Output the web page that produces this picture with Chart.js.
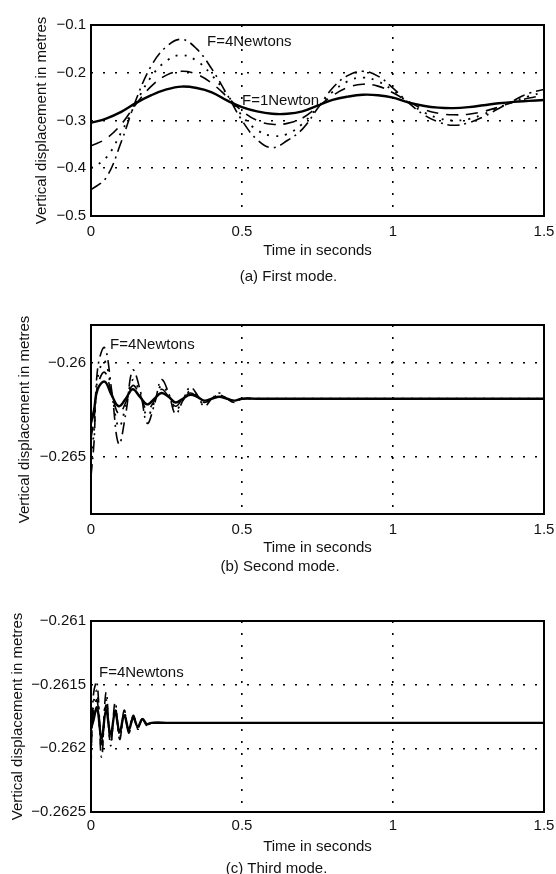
<!DOCTYPE html>
<html>
<head>
<meta charset="utf-8">
<title>Vertical displacement - three modes</title>
<script src="https://cdn.jsdelivr.net/npm/chart.js@4.4.1/dist/chart.umd.min.js"></script>
<style>
  body { margin: 0; background: #fff; overflow: hidden; }
  .wrap { position: relative; width: 556px; height: 874px; overflow: hidden; }
  canvas { position: absolute; left: 0; }
</style>
</head>
<body>
<div class="wrap">
  <canvas id="c1" width="556" height="290" style="top:0px"></canvas>
  <canvas id="c2" width="556" height="285" style="top:295px"></canvas>
  <canvas id="c3" width="556" height="293" style="top:585px"></canvas>
</div>
<script>
// shared x axis
const xTicks = [0, 0.5, 1, 1.5];
const xTickLabels = ["0", "0.5", "1", "1.5"];

// (a) first mode
const time1 = [0, 0.05, 0.1, 0.15, 0.2, 0.25, 0.3, 0.35, 0.4, 0.45, 0.5, 0.55, 0.6, 0.65, 0.7, 0.75,
  0.8, 0.85, 0.9, 0.95, 1.0, 1.05, 1.1, 1.15, 1.2, 1.25, 1.3, 1.35, 1.4, 1.45, 1.5];
const first_F1 = [-0.305, -0.296, -0.282, -0.263, -0.247, -0.235, -0.229, -0.232, -0.241, -0.258, -0.272,
  -0.281, -0.286, -0.286, -0.281, -0.269, -0.257, -0.250, -0.246, -0.247, -0.252, -0.262, -0.269, -0.273,
  -0.274, -0.272, -0.268, -0.264, -0.261, -0.259, -0.257];
const first_F2 = [-0.353, -0.338, -0.308, -0.265, -0.228, -0.205, -0.197, -0.203, -0.222, -0.250, -0.280,
  -0.300, -0.308, -0.306, -0.295, -0.272, -0.248, -0.231, -0.224, -0.228, -0.242, -0.260, -0.276, -0.285,
  -0.288, -0.287, -0.281, -0.272, -0.261, -0.253, -0.247];
const first_F3 = [-0.400, -0.378, -0.325, -0.262, -0.208, -0.175, -0.163, -0.175, -0.205, -0.245, -0.290,
  -0.320, -0.332, -0.328, -0.307, -0.273, -0.240, -0.218, -0.210, -0.218, -0.237, -0.262, -0.282, -0.295,
  -0.300, -0.297, -0.287, -0.273, -0.260, -0.249, -0.241];
const first_F4 = [-0.445, -0.420, -0.345, -0.255, -0.185, -0.145, -0.130, -0.150, -0.192, -0.245, -0.300,
  -0.340, -0.357, -0.342, -0.318, -0.275, -0.232, -0.206, -0.197, -0.207, -0.232, -0.262, -0.287, -0.303,
  -0.310, -0.305, -0.292, -0.275, -0.258, -0.243, -0.235];
const yTicks1 = [-0.5, -0.4, -0.3, -0.2, -0.1];
const yTickLabels1 = ["\u22120.5", "\u22120.4", "\u22120.3", "\u22120.2", "\u22120.1"];

// (b) second mode
const time2 = [0, 0.01, 0.022, 0.045, 0.068, 0.092, 0.115, 0.138, 0.162, 0.186, 0.21, 0.233, 0.257, 0.28,
  0.304, 0.328, 0.352, 0.375, 0.4, 0.425, 0.45, 0.475, 0.5, 0.55, 0.6, 0.7, 0.8, 1.0, 1.2, 1.5];
const second_F1 = [-0.2632, -0.2625, -0.2614, -0.2610, -0.2617, -0.2623, -0.2619, -0.2614, -0.2618, -0.2622,
  -0.2619, -0.2616, -0.2618, -0.2621, -0.2619, -0.2617, -0.2618, -0.2620, -0.2619, -0.2618, -0.2619, -0.2620,
  -0.2619, -0.2619, -0.2619, -0.2619, -0.2619, -0.2619, -0.2619, -0.2619];
const second_F2 = [-0.2640, -0.2630, -0.2612, -0.2605, -0.2616, -0.2627, -0.2621, -0.2612, -0.2617, -0.2625,
  -0.2620, -0.2614, -0.2618, -0.2623, -0.2619, -0.2616, -0.2618, -0.2621, -0.2619, -0.2617, -0.2619, -0.2620,
  -0.2619, -0.2619, -0.2619, -0.2619, -0.2619, -0.2619, -0.2619, -0.2619];
const second_F3 = [-0.2650, -0.2636, -0.2608, -0.2599, -0.2615, -0.2634, -0.2623, -0.2609, -0.2616, -0.2628,
  -0.2621, -0.2612, -0.2617, -0.2625, -0.2620, -0.2615, -0.2618, -0.2622, -0.2619, -0.2617, -0.2619, -0.2620,
  -0.2619, -0.2619, -0.2619, -0.2619, -0.2619, -0.2619, -0.2619, -0.2619];
const second_F4 = [-0.2660, -0.2642, -0.2603, -0.2592, -0.2614, -0.2643, -0.2627, -0.2604, -0.2614, -0.2632,
  -0.2622, -0.2609, -0.2616, -0.2627, -0.2620, -0.2613, -0.2617, -0.2623, -0.2619, -0.2616, -0.2619, -0.2621,
  -0.2619, -0.2619, -0.2619, -0.2619, -0.2619, -0.2619, -0.2619, -0.2619];
const yTicks2 = [-0.265, -0.26];
const yTickLabels2 = ["\u22120.265", "\u22120.26"];

// (c) third mode
const time3 = [0, 0.008, 0.02, 0.035, 0.05, 0.065, 0.08, 0.095, 0.11, 0.125, 0.14, 0.155, 0.17, 0.185,
  0.2, 0.25, 0.3, 0.5, 1.0, 1.5];
const third_F1 = [-0.26185, -0.26178, -0.26168, -0.26192, -0.26170, -0.26189, -0.26172, -0.26187, -0.26174,
  -0.26185, -0.26176, -0.26183, -0.26177, -0.26181, -0.2618, -0.2618, -0.2618, -0.2618, -0.2618, -0.2618];
const third_F2 = [-0.26195, -0.26172, -0.26162, -0.26196, -0.26166, -0.26192, -0.26170, -0.26189, -0.26173,
  -0.26186, -0.26175, -0.26184, -0.26177, -0.26182, -0.2618, -0.2618, -0.2618, -0.2618, -0.2618, -0.2618];
const third_F3 = [-0.26205, -0.26165, -0.26155, -0.26200, -0.26162, -0.26195, -0.26168, -0.26191, -0.26172,
  -0.26187, -0.26175, -0.26184, -0.26177, -0.26182, -0.2618, -0.2618, -0.2618, -0.2618, -0.2618, -0.2618];
const third_F4 = [-0.26215, -0.26158, -0.26148, -0.26207, -0.26156, -0.26198, -0.26164, -0.26193, -0.26170,
  -0.26188, -0.26174, -0.26185, -0.26177, -0.26182, -0.2618, -0.2618, -0.2618, -0.2618, -0.2618, -0.2618];
const yTicks3 = [-0.2625, -0.262, -0.2615, -0.261];
const yTickLabels3 = ["\u22120.2625", "\u22120.262", "\u22120.2615", "\u22120.261"];

const seriesNames = ["F=1Newton", "F=2Newtons", "F=3Newtons", "F=4Newtons"];

Chart.defaults.font.family = "'Liberation Sans', Arial, Helvetica, sans-serif";
Chart.defaults.font.size = 15;
Chart.defaults.color = "#111";

// solid, dashed, dotted, dash-dot like the matlab defaults
const lineStyles = [
  { borderWidth: 2.4, borderDash: [] },
  { borderWidth: 1.6, borderDash: [12, 8] },
  { borderWidth: 1.8, borderDash: [2, 7] },
  { borderWidth: 1.6, borderDash: [12, 5, 2, 5] }
];

// box round the plot area
const framePlugin = {
  id: "frame",
  afterDatasetsDraw(chart) {
    const { ctx, chartArea: a } = chart;
    ctx.save();
    ctx.strokeStyle = "#000";
    ctx.lineWidth = 2;
    ctx.strokeRect(a.left, a.top, a.right - a.left, a.bottom - a.top);
    ctx.restore();
  }
};

// text labels placed in data coordinates
function notesPlugin(notes) {
  return {
    id: "notes",
    afterDatasetsDraw(chart) {
      const { ctx, scales } = chart;
      ctx.save();
      ctx.font = "15px 'Liberation Sans', Arial, sans-serif";
      ctx.fillStyle = "#111";
      ctx.textAlign = "left";
      ctx.textBaseline = "middle";
      notes.forEach(n => {
        ctx.fillText(n.text, scales.x.getPixelForValue(n.x), scales.y.getPixelForValue(n.y));
      });
      ctx.restore();
    }
  };
}

function isEdge(value, min, max) {
  return Math.abs(value - min) < 1e-9 || Math.abs(value - max) < 1e-9;
}

function makePanel(id, p) {
  const datasets = p.series.map((vals, i) => ({
    label: seriesNames[i],
    data: p.time.map((t, k) => ({ x: t, y: vals[k] })),
    borderColor: "#000",
    borderWidth: lineStyles[i].borderWidth,
    borderDash: lineStyles[i].borderDash,
    pointRadius: 0,
    tension: 0.4,
    fill: false
  })).reverse(); // solid drawn last, on top

  return new Chart(document.getElementById(id), {
    type: "line",
    data: { datasets },
    options: {
      responsive: false,
      animation: false,
      devicePixelRatio: 1,
      layout: { padding: { top: p.padTop, left: p.padLeft, right: 12, bottom: p.padBottom } },
      plugins: {
        legend: { display: false },
        tooltip: { enabled: false },
        title: {
          display: true,
          position: "bottom",
          text: p.caption,
          color: "#111",
          font: { size: 15, weight: "normal" },
          padding: { top: p.capPad, bottom: 0 }
        }
      },
      scales: {
        x: {
          type: "linear",
          min: 0,
          max: 1.5,
          afterBuildTicks: ax => { ax.ticks = xTicks.map(v => ({ value: v })); },
          afterFit: ax => { ax.height = p.xAxisHeight; },
          ticks: {
            // padding 0 so the last label does not push the plot in; the gap comes from lineHeight
            padding: 0,
            font: { size: 15, lineHeight: p.tickLine },
            autoSkip: false,
            maxRotation: 0,
            color: "#111",
            callback: v => xTickLabels[xTicks.indexOf(v)]
          },
          grid: {
            drawTicks: false,
            color: "#000",
            lineWidth: c => (c.tick && isEdge(c.tick.value, 0, 1.5)) ? 0 : 1.6
          },
          border: { display: false, dash: [2, 10] },
          title: { display: true, text: "Time in seconds", color: "#111", padding: { top: 0, bottom: p.titlePad } }
        },
        y: {
          type: "linear",
          min: p.yMin,
          max: p.yMax,
          afterBuildTicks: ax => { ax.ticks = p.yTicks.map(v => ({ value: v })); },
          afterFit: ax => { ax.width = p.yAxisWidth; },
          ticks: {
            padding: 5,
            autoSkip: false,
            color: "#111",
            callback: v => p.yTickLabels[p.yTicks.indexOf(v)]
          },
          grid: {
            drawTicks: false,
            color: "#000",
            lineWidth: c => (c.tick && isEdge(c.tick.value, p.yMin, p.yMax)) ? 0 : 1.6
          },
          border: { display: false, dash: [2, 10] },
          title: { display: true, text: "Vertical displacement in metres", color: "#111", padding: { top: 0, bottom: 0 } }
        }
      }
    },
    plugins: [framePlugin, notesPlugin(p.notes)]
  });
}

makePanel("c1", {
  time: time1,
  series: [first_F1, first_F2, first_F3, first_F4],
  yMin: -0.5, yMax: -0.1,
  yTicks: yTicks1, yTickLabels: yTickLabels1,
  caption: "(a) First mode.",
  padTop: 25, padLeft: 33, padBottom: 4,
  yAxisWidth: 58, xAxisHeight: 45, tickLine: 2.13, titlePad: 1, capPad: 7,
  notes: [
    { text: "F=4Newtons", x: 0.384, y: -0.135 },
    { text: "F=1Newton", x: 0.500, y: -0.258 }
  ]
});

makePanel("c2", {
  time: time2,
  series: [second_F1, second_F2, second_F3, second_F4],
  yMin: -0.268, yMax: -0.258,
  yTicks: yTicks2, yTickLabels: yTickLabels2,
  caption: "(b) Second mode.",
  padTop: 30, padLeft: 16, padBottom: 4,
  yAxisWidth: 75, xAxisHeight: 44, tickLine: 2.13, titlePad: 1, capPad: 0,
  notes: [
    { text: "F=4Newtons", x: 0.063, y: -0.25905 }
  ]
});

makePanel("c3", {
  time: time3,
  series: [third_F1, third_F2, third_F3, third_F4],
  yMin: -0.2625, yMax: -0.261,
  yTicks: yTicks3, yTickLabels: yTickLabels3,
  caption: "(c) Third mode.",
  padTop: 36, padLeft: 9, padBottom: 0,
  yAxisWidth: 82, xAxisHeight: 48, tickLine: 1.87, titlePad: 4, capPad: 0,
  notes: [
    { text: "F=4Newtons", x: 0.0265, y: -0.261406 }
  ]
});
</script>
</body>
</html>
